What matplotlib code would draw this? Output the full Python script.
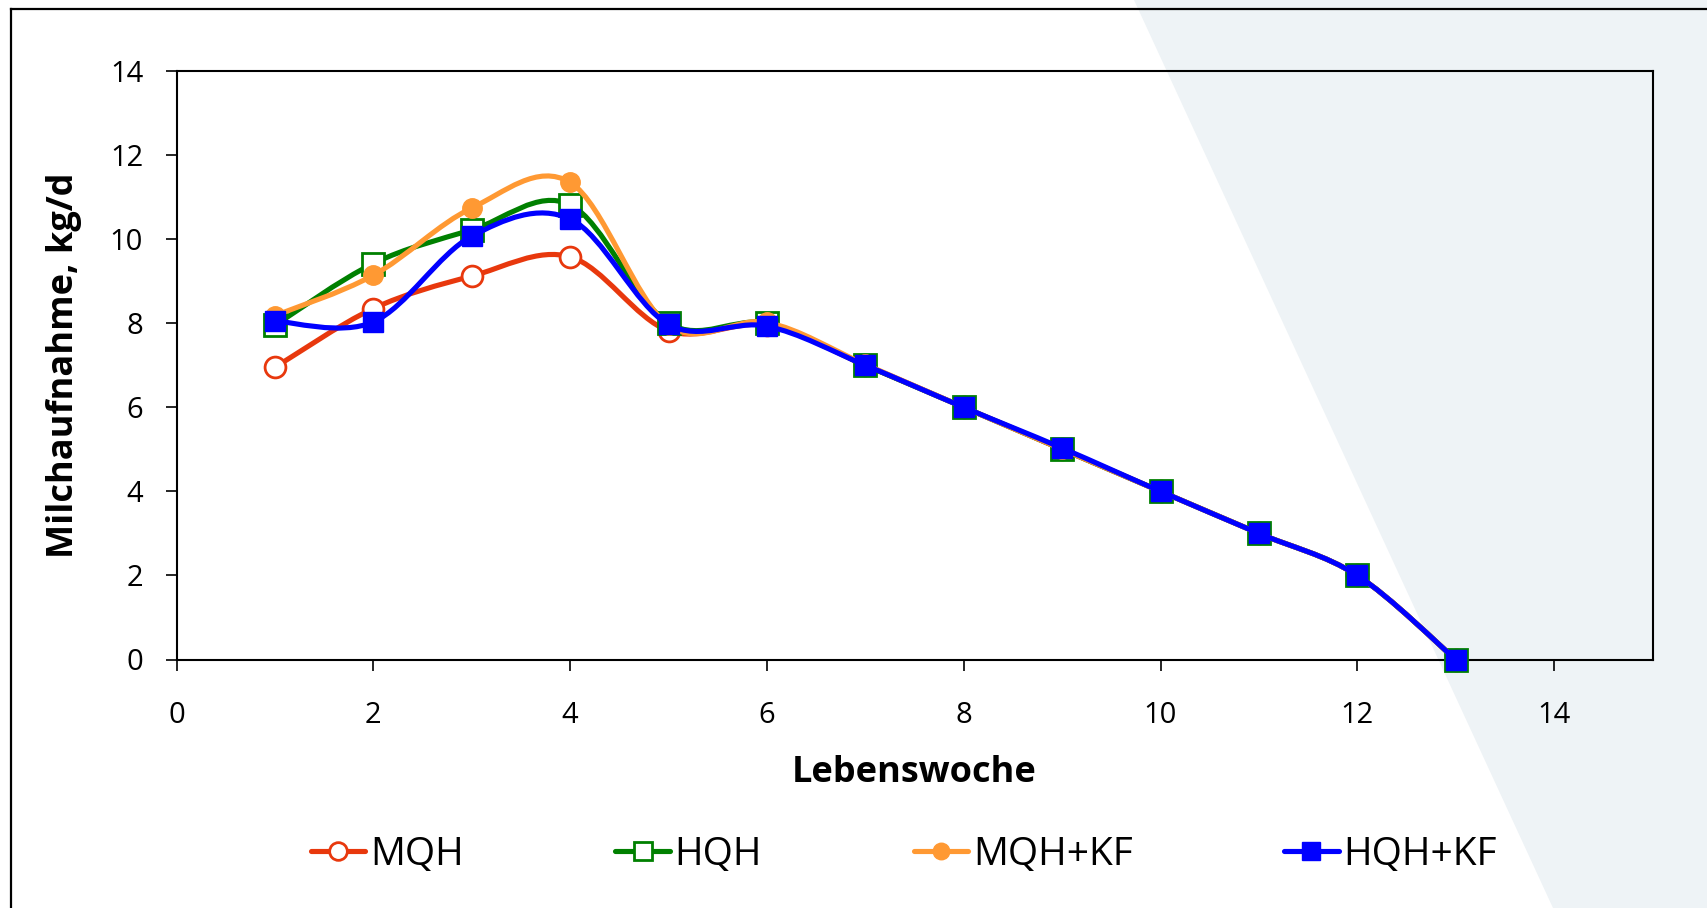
import matplotlib
matplotlib.use("Agg")
import matplotlib.pyplot as plt
from matplotlib.path import Path
from matplotlib.patches import PathPatch, Polygon
from matplotlib.lines import Line2D
import numpy as np

weeks = [1, 2, 3, 4, 5, 6, 7, 8, 9, 10, 11, 12, 13]
mqh = [6.95, 8.35, 9.12, 9.58, 7.82, 7.95, 7.0, 6.0, 5.0, 4.0, 3.0, 2.0, 0.0]
hqh = [7.95, 9.42, 10.22, 10.82, 8.0, 8.0, 7.0, 6.0, 5.0, 4.0, 3.0, 2.0, 0.0]
mqh_kf = [8.18, 9.14, 10.74, 11.35, 7.95, 8.02, 7.02, 6.0, 5.0, 4.0, 3.0, 2.0, 0.0]
hqh_kf = [8.05, 8.03, 10.07, 10.48, 7.97, 7.93, 7.0, 6.0, 5.03, 4.0, 3.0, 2.0, 0.0]
series_names = ["MQH", "HQH", "MQH+KF", "HQH+KF"]
x_ticks = [0, 2, 4, 6, 8, 10, 12, 14]
y_ticks = [0, 2, 4, 6, 8, 10, 12, 14]

plt.rcParams['font.family'] = ['Open Sans', 'DejaVu Sans']

fig = plt.figure(figsize=(17.07, 9.08), dpi=100)

# background triangle
fig.patches.append(Polygon([(1134/1707, 1.0), (1.0, 1.0), (1.0, 0.0), (1553/1707, 0.0)],
                           closed=True, transform=fig.transFigure, facecolor='#EEF3F6',
                           edgecolor='none', zorder=-10))
# outer frame (top and left visible)
fig.lines.append(Line2D([11/1707, 11/1707], [0, 1 - 9/908], transform=fig.transFigure, color='black', lw=1.6))
fig.lines.append(Line2D([11/1707, 1], [1 - 9/908, 1 - 9/908], transform=fig.transFigure, color='black', lw=1.6))

ax = fig.add_axes([176.5/1707, 1 - 659.5/908, (1652.5 - 176.5)/1707, (659.5 - 71)/908])
ax.set_facecolor('none')
ax.set_xlim(0, 15)
ax.set_ylim(0, 14)
ax.set_xticks(x_ticks)
ax.set_yticks(y_ticks)
for s in ax.spines.values():
    s.set_linewidth(1.5)
ax.tick_params(direction='out', length=8, width=1.2, labelsize=21)
ax.tick_params(axis='x', pad=22)
ax.tick_params(axis='y', pad=16)
ax.set_xlabel("Lebenswoche", fontsize=26, fontweight='bold', labelpad=18)
ax.set_ylabel("Milchaufnahme, kg/d", fontsize=26, fontweight='bold', labelpad=20)


def smooth_path(xs, ys):
    pts = np.column_stack([xs, ys]).astype(float)
    n = len(pts)
    verts = [pts[0]]
    codes = [Path.MOVETO]
    for i in range(n - 1):
        p0 = pts[i - 1] if i > 0 else pts[i]
        p1 = pts[i]
        p2 = pts[i + 1]
        p3 = pts[i + 2] if i + 2 < n else pts[i + 1]
        c1 = p1 + (p2 - p0) / 6.0
        c2 = p2 - (p3 - p1) / 6.0
        verts += [c1, c2, p2]
        codes += [Path.CURVE4] * 3
    return Path(verts, codes)


styles = [
    dict(color='#E8380D', marker='o', mfc='white', mec='#E8380D', ms=15, mew=2),
    dict(color='#008000', marker='s', mfc='white', mec='#008000', ms=16, mew=2),
    dict(color='#FF9933', marker='o', mfc='#FF9933', mec='#FF9933', ms=14, mew=1),
    dict(color='#0000FF', marker='s', mfc='#0000FF', mec='#0000FF', ms=15, mew=1),
]
data = [mqh, hqh, mqh_kf, hqh_kf]
handles = []
for i, (vals, st, name) in enumerate(zip(data, styles, series_names)):
    z = 3 + i
    patch = PathPatch(smooth_path(weeks, vals), facecolor='none', edgecolor=st['color'],
                      lw=3.7, zorder=z, capstyle='round')
    ax.add_patch(patch)
    ax.plot(weeks, vals, linestyle='none', marker=st['marker'], ms=st['ms'],
            mfc=st['mfc'], mec=st['mec'], mew=st['mew'], zorder=z + 0.5, clip_on=False)
    handles.append(Line2D([], [], color=st['color'], lw=3.7, marker=st['marker'],
                          ms=st['ms'] * 0.85, mfc=st['mfc'], mec=st['mec'], mew=st['mew'],
                          solid_capstyle='round', label=name))

fig.legend(handles=handles, loc='center', bbox_to_anchor=(0.5295, 1 - 855/908), ncol=4,
           frameon=False, fontsize=28, handlelength=1.4, handletextpad=0.12,
           columnspacing=3.9)

fig.savefig("out.png", dpi=100)
